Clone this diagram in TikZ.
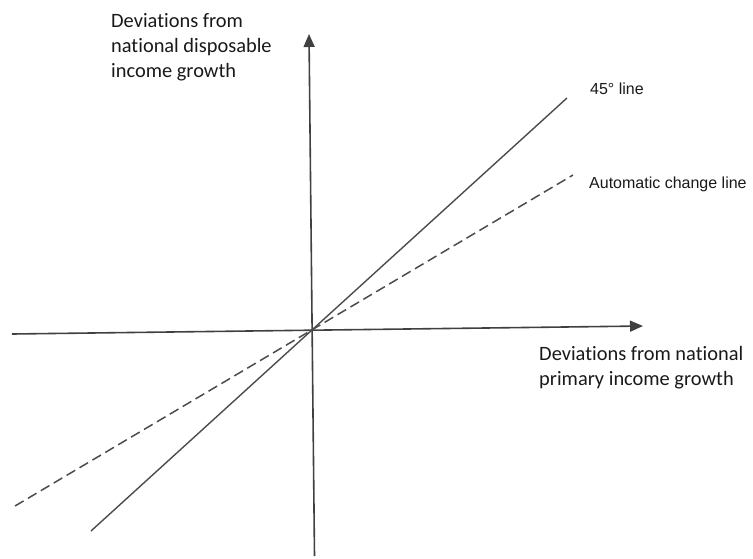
\documentclass[tikz,border=0pt]{standalone}
\usepackage{fontspec}
\setmainfont[Ligatures=NoCommon]{Carlito}
\newfontfamily\arialf{Liberation Sans}
\usetikzlibrary{arrows.meta}
\begin{document}
\begin{tikzpicture}[x=1pt,y=-1pt,
  axis/.style={draw=black!75,line width=1.6pt,-{Triangle[length=13pt,width=11pt]}},
  fortyfive/.style={draw=black!70,line width=1.4pt},
  autoline/.style={draw=black!70,line width=1.5pt,dash pattern=on 10pt off 5pt},
  axlabel/.style={inner sep=0pt,align=left,anchor=north west,font=\fontsize{20.4}{25}\selectfont,text=black!90},
  linelabel/.style={inner sep=0pt,anchor=base west,font=\arialf\fontsize{16}{19}\selectfont,text=black!90}]
\useasboundingbox (0,0) rectangle (753,558);
\coordinate (ybot) at (314.5,556);
\coordinate (ytop) at (309,34);
\coordinate (xl) at (12,334);
\coordinate (xr) at (643,326);
\coordinate (a1) at (91,531);
\coordinate (a2) at (567,98);
\coordinate (b1) at (15,506);
\coordinate (b2) at (573,175);
\draw[axis] (ybot) -- (ytop);
\draw[axis] (xl) -- (xr);
\draw[fortyfive] (a1) -- (a2);
\draw[autoline] (b1) -- (b2);
\node[axlabel] (ylab) at (111,13) {Deviations from\\national disposable\\income growth};
\node[axlabel] (xlab) at (539,346) {Deviations from national\\primary income growth};
\node[linelabel] (l45) at (590,94) {45° line};
\node[linelabel] (lauto) at (589,188) {Automatic change line};
\end{tikzpicture}
\end{document}
